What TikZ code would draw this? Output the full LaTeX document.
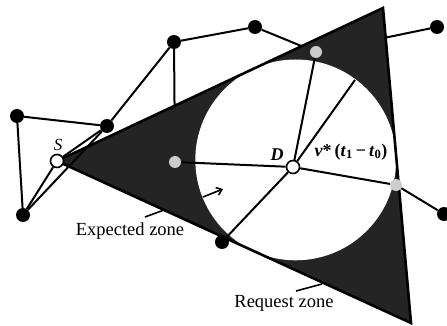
\documentclass[tikz,border=0pt]{standalone}
\usepackage{fontspec}
\setmainfont{Liberation Serif}
\usetikzlibrary{arrows.meta}
\pgfdeclarelayer{hidden}
\pgfdeclarelayer{zone}
\pgfdeclarelayer{edges}
\pgfsetlayers{hidden,zone,edges,main}
\begin{document}
\begin{tikzpicture}[x=1pt,y=-1pt,
  edge/.style={line width=2pt},
  leader/.style={line width=1.6pt},
  bnode/.style={circle,fill=black,inner sep=0pt,minimum size=14pt},
  gnode/.style={circle,fill=black!20,inner sep=0pt,minimum size=12pt},
  wnode/.style={circle,draw=black,fill=white,line width=1.6pt,inner sep=0pt,minimum size=13pt},
  zonefill/.style={fill=black!86},
  zoneline/.style={line width=2.6pt,line join=miter},
  lab/.style={font=\fontsize{18.5}{20}\selectfont}]
\useasboundingbox (0,0) rectangle (447,326);

% nodes
\node[wnode] (S) at (57,161) {};
\node[wnode] (D) at (293,167) {};
\node[bnode] (n1) at (17,116) {};
\node[bnode] (n2) at (107,126) {};
\node[bnode] (n3) at (23,215) {};
\node[bnode] (n4) at (174,42) {};
\node[bnode] (n5) at (255,27) {};
\node[bnode] (n6) at (437,27) {};
\node[bnode] (n7) at (444,214) {};
\node[bnode] (n8) at (222,242) {};
\node[gnode] (g1) at (316,52) {};
\node[gnode] (g2) at (175,162) {};
\node[gnode] (g3) at (396,185) {};

\coordinate (T) at (383,8);
\coordinate (B) at (411,323);
\coordinate (R) at (355,80);

% hidden connectors (below the zones)
\begin{pgfonlayer}{hidden}
  \draw[edge] (n4) -- (g2);
  \draw[edge] (n5) -- (g1);
  \draw[edge] (n6) -- (g1);
\end{pgfonlayer}

% request zone and expected zone
\begin{pgfonlayer}{zone}
  \fill[zonefill] (S.center) -- (T) -- (B) -- cycle;
  \begin{scope}
    \clip (S.center) -- (T) -- (B) -- cycle;
    \fill[white] (295.7,159.9) circle[radius=100.4pt];
  \end{scope}
  \draw[zoneline] (S.center) -- (T) -- (B) -- cycle;
\end{pgfonlayer}

% visible connectors
\begin{pgfonlayer}{edges}
  \draw[edge] (n1) -- (n2);
  \draw[edge] (n1) -- (n3);
  \draw[edge] (n3) -- (S);
  \draw[edge] (n3) -- (n2);
  \draw[edge] (S) -- (n2);
  \draw[edge] (n2) -- (n4);
  \draw[edge] (n4) -- (n5);
  \draw[edge] (n7) -- (g3);
  \draw[edge] (D) -- (g2);
  \draw[edge] (D) -- (g3);
  \draw[edge] (D) -- (n8);
  \draw[edge] (D) -- (g1);
  \draw[edge] (D) -- (R);
\end{pgfonlayer}

% labels
\node[font=\itshape\fontsize{17}{17}\selectfont] (lS) at (58,145) {S};
\node[font=\bfseries\itshape\fontsize{18}{18}\selectfont] (lD) at (277,155) {D};
\node[font=\bfseries\fontsize{18}{18}\selectfont] (lv) at (351,152)
  {\textit{v}*\,(\textit{t}\textsubscript{1}\,−\,\textit{t}\textsubscript{0})};
\node[lab] (lE) at (130,231) {Expected zone};
\node[lab] (lR) at (284,303) {Request zone};

\coordinate (e1) at (145,217);
\coordinate (e2) at (164,210);
\draw[leader] (e1) -- (e2);
\coordinate (r1) at (296,291);
\coordinate (r2) at (322,284);
\draw[leader] (r1) -- (r2);
\coordinate (a1) at (203,197);
\coordinate (a2) at (223,189);
\draw[leader,-{Straight Barb[length=5pt,width=8pt]}] (a1) -- (a2);
\end{tikzpicture}
\end{document}
